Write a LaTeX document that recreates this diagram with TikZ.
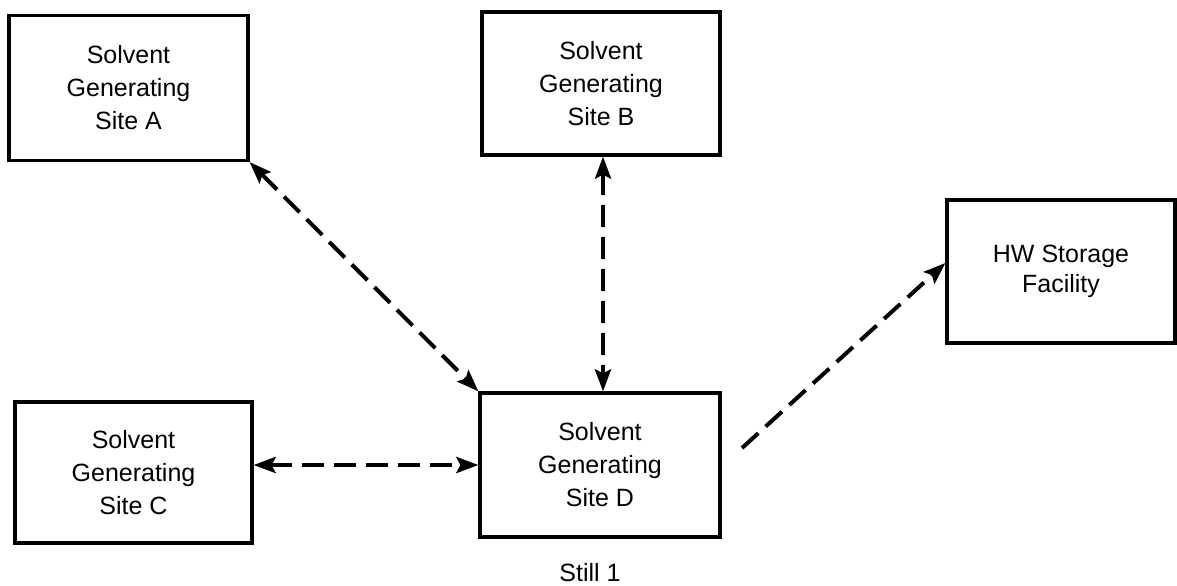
\documentclass[tikz,border=0pt]{standalone}
\usepackage{fontspec}
\setmainfont{Liberation Sans}
\usetikzlibrary{arrows.meta}
\begin{document}
\begin{tikzpicture}[x=0.5pt,y=-0.5pt,
  site/.style={draw, line width=1.6pt, align=center, inner sep=0pt,
    font=\fontsize{12.5}{16.5}\selectfont},
  tip/.style={},
  flow/.style={line width=2pt, dash pattern=on 11pt off 5pt},
  both/.style={flow, {Stealth[length=11pt,width=8pt,inset=2pt]}-{Stealth[length=11pt,width=8pt,inset=2pt]}},
  one/.style={flow, -{Stealth[length=11pt,width=8pt,inset=2pt]}}]
\useasboundingbox (0,0) rectangle (1177,585);
\node[site, minimum width=119.5pt, minimum height=72.5pt] (A) at (128.5,88) {Solvent\\Generating\\Site A};
\node[site, minimum width=119pt, minimum height=71.5pt] (B) at (601,83.5) {Solvent\\Generating\\Site B};
\node[site, minimum width=118.5pt, minimum height=70.5pt] (C) at (133.5,472.5) {Solvent\\Generating\\Site C};
\node[site, minimum width=120pt, minimum height=72pt] (D) at (600,465) {Solvent\\Generating\\Site D};
\node[site, minimum width=114pt, minimum height=71.5pt, font=\fontsize{12.5}{15}\selectfont] (HW) at (1061,271.5) {HW Storage\\Facility};
\node[font=\fontsize{12.5}{15}\selectfont] (still) at (590,573) {Still 1};
\coordinate (dout) at (742,448);
\draw[both] (A.south east) -- (D.north west);
\draw[both] ([xshift=1pt]B.south) -- ([xshift=1pt]B.south |- D.north);
\draw[both] (C.east |- D.west) -- (D.west);
\draw[one] (dout) -- ([yshift=4.25pt]HW.west);
\end{tikzpicture}
\end{document}
